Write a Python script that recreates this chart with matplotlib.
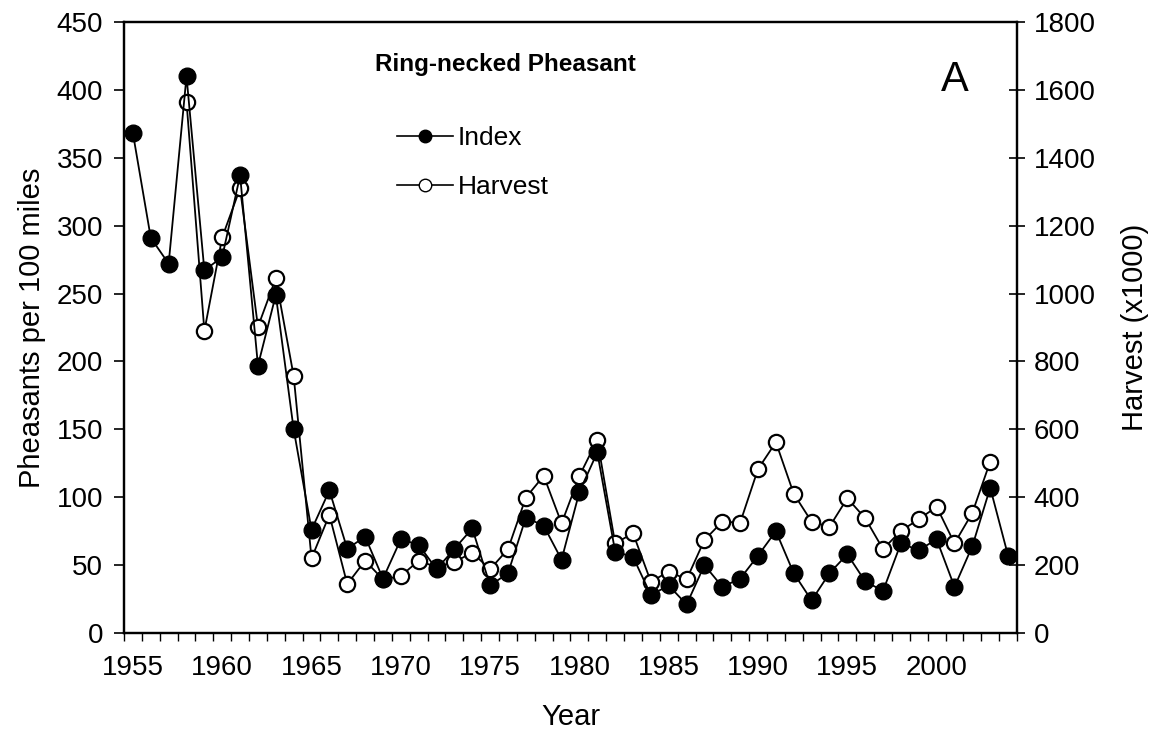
import matplotlib
matplotlib.use("Agg")
import matplotlib.pyplot as plt
from matplotlib.lines import Line2D
import numpy as np

plt.rcParams['font.family'] = ['Liberation Sans', 'DejaVu Sans']

years_index = list(range(1955, 2005))
index_vals = [368, 291, 272, 410, 267, 277, 337, 197, 249, 150,
              76, 105, 62, 71, 40, 69, 65, 47, 62, 77,
              35, 44, 85, 79, 54, 104, 133, 60, 56, 28,
              35, 21, 50, 34, 40, 57, 75, 44, 24, 44,
              58, 38, 31, 66, 61, 69, 34, 64, 107, 57]

years_harvest = list(range(1958, 2004))
harvest_vals = [1565, 890, 1166, 1310, 902, 1045, 757, 220, 348, 144,
                213, 158, 168, 213, 194, 210, 236, 188, 247, 399,
                463, 323, 463, 569, 264, 294, 151, 181, 158, 274,
                328, 325, 483, 562, 410, 328, 313, 397, 338, 247,
                301, 335, 372, 264, 354, 505]

x_labels = [1955, 1960, 1965, 1970, 1975, 1980, 1985, 1990, 1995, 2000]

fig = plt.figure(figsize=(11.56, 7.43), dpi=100)
ax = fig.add_axes([124/1156, 1-633/743, (1017-124)/1156, (633-22)/743])
ax2 = ax.twinx()

ax.plot(years_index, index_vals, color='black', lw=1.3, marker='o',
        markersize=12, markerfacecolor='black', markeredgecolor='black', zorder=3)
ax2.plot(years_harvest, harvest_vals, color='black', lw=1.3, marker='o',
         markersize=11, markerfacecolor='white', markeredgecolor='black',
         markeredgewidth=1.6, zorder=2)
ax.set_zorder(ax2.get_zorder() + 1)
ax.patch.set_visible(False)

ax.set_xlim(1954.5, 2004.5)
ax.set_ylim(0, 450)
ax2.set_ylim(0, 1800)

ax.set_yticks(np.arange(0, 451, 50))
ax2.set_yticks(np.arange(0, 1801, 200))
ax.set_xticks(x_labels)
ax.set_xticks(np.arange(1954.5, 2004.6, 1), minor=True)

fs = 20
ax.tick_params(axis='x', which='major', length=0, pad=16, labelsize=fs)
ax.tick_params(axis='x', which='minor', length=6, width=1, direction='out')
ax.tick_params(axis='y', which='major', length=7, width=1.2, direction='out', pad=8, labelsize=fs)
ax2.tick_params(axis='y', which='major', length=12, width=1.2, direction='inout', pad=6, labelsize=fs)

for a in (ax, ax2):
    for s in a.spines.values():
        s.set_linewidth(1.6)

ax.set_ylabel('Pheasants per 100 miles', fontsize=21, labelpad=8)
ax2.set_ylabel('Harvest (x1000)', fontsize=21, labelpad=18)
ax.set_xlabel('Year', fontsize=21, labelpad=16)

fig.text(375/1156, 1-65/743, 'Ring-necked Pheasant', fontsize=17.5, fontweight='bold',
         ha='left', va='center')
fig.text(955/1156, 1-80/743, 'A', fontsize=30, ha='center', va='center')

handles = [Line2D([], [], color='black', lw=1.2, marker='o', markersize=9,
                  markerfacecolor='black', markeredgecolor='black'),
           Line2D([], [], color='black', lw=1.2, marker='o', markersize=9,
                  markerfacecolor='white', markeredgecolor='black')]
leg = ax.legend(handles, ['Index', 'Harvest'], loc='upper left',
                bbox_to_anchor=(384/1156, 1-113/743), bbox_transform=fig.transFigure,
                frameon=False, fontsize=19, handlelength=2.1, handletextpad=0.2,
                labelspacing=0.95, borderpad=0)

fig.savefig('out.png', dpi=100)
